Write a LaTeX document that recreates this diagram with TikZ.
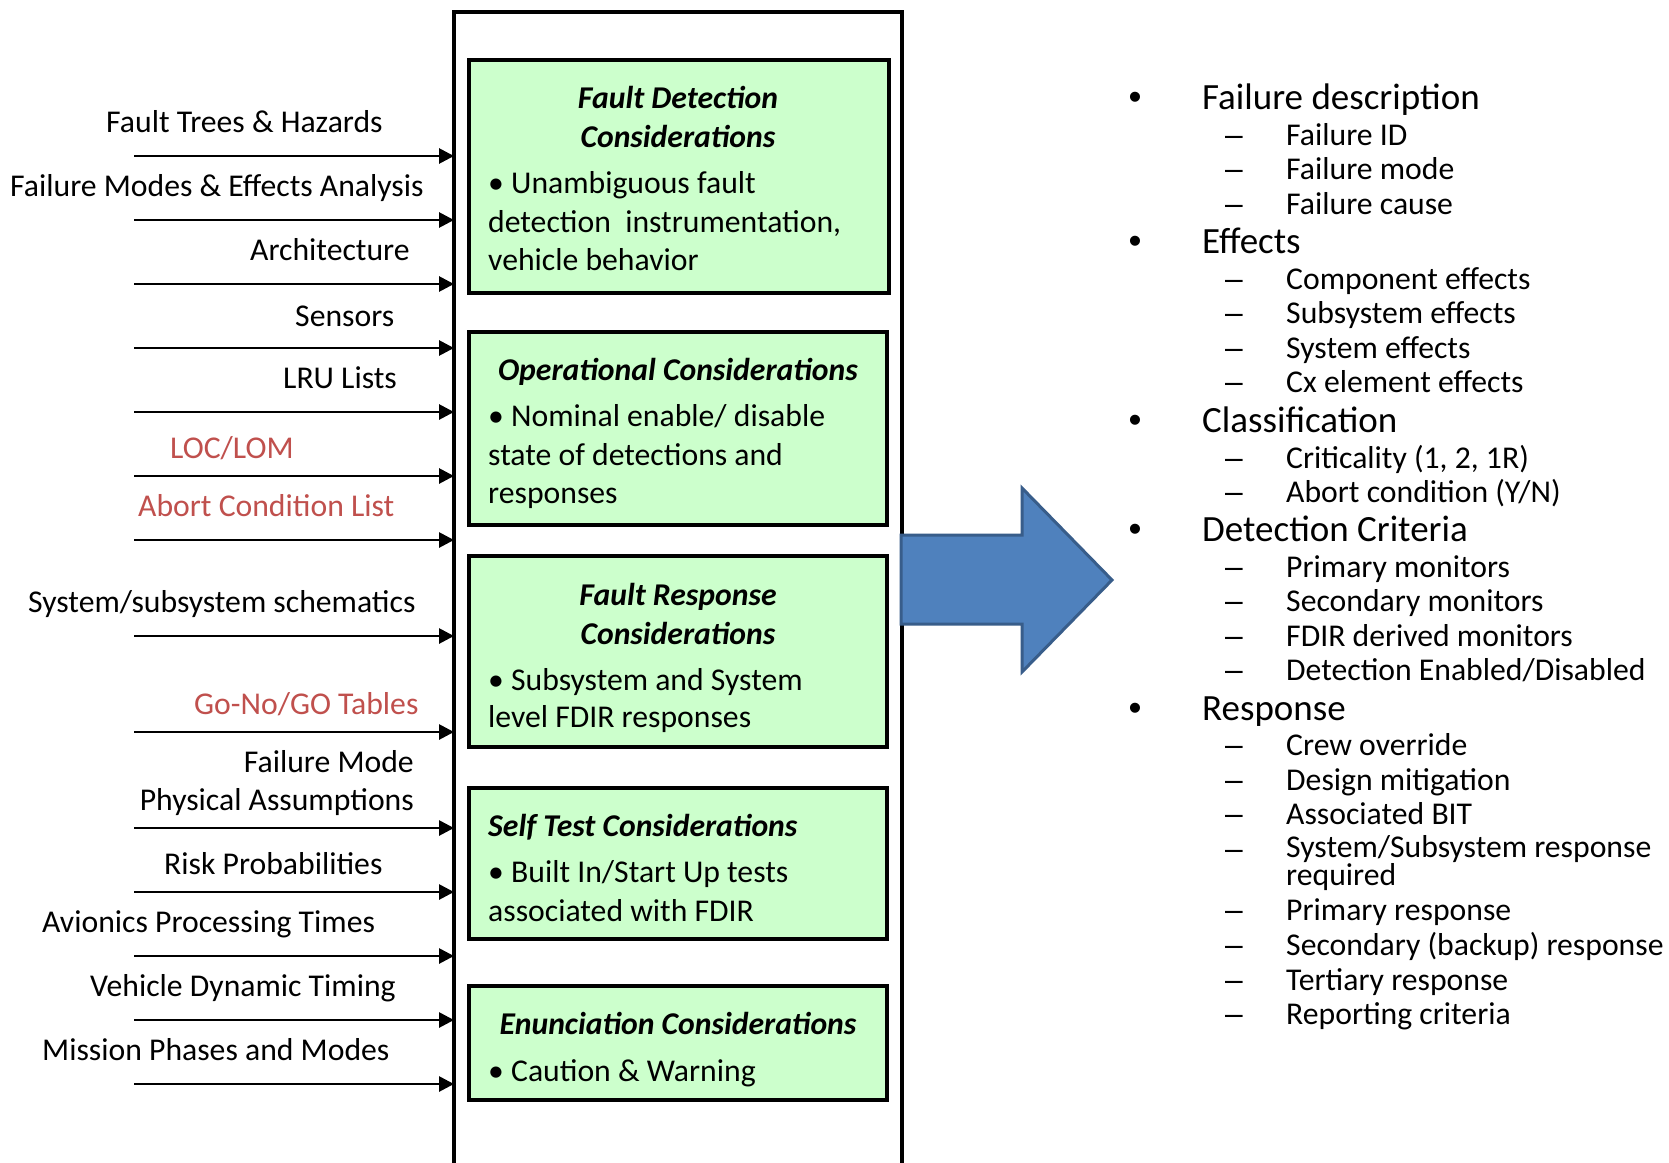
\documentclass[tikz,border=0pt]{standalone}
\usepackage{fontspec}
\setmainfont{Carlito}
\newfontfamily\markfont{Liberation Sans}
\usetikzlibrary{arrows.meta}

\definecolor{boxgreen}{HTML}{CCFFCC}
\definecolor{labelred}{HTML}{C0504D}
\definecolor{arrowblue}{HTML}{4F81BD}
\definecolor{arrowedge}{HTML}{385D8A}

\newcommand{\lblsize}{\fontsize{31.7}{38}\selectfont}
\newcommand{\mainsize}{\fontsize{37}{44}\selectfont}

\tikzset{
  outerframe/.style={draw=black, line width=3.5pt, outer sep=0pt, inner sep=0pt, anchor=north west},
  considbox/.style={draw=black, fill=boxgreen, line width=3.5pt, outer sep=0pt, inner sep=0pt, anchor=north west},
  inlabel/.style={anchor=base west, inner sep=0pt, font=\lblsize},
  inlabelr/.style={anchor=base east, inner sep=0pt, font=\lblsize},
  warnlabel/.style={inlabel, text=labelred},
  feedarrow/.style={line width=2.8pt, -{Triangle[length=15pt,width=15pt]}},
  headline/.style={anchor=base, inner sep=0pt, font=\lblsize\bfseries\itshape},
  headlinel/.style={anchor=base west, inner sep=0pt, font=\lblsize\bfseries\itshape},
  bodyline/.style={anchor=base west, inner sep=0pt, font=\lblsize},
  mainitem/.style={anchor=base west, inner sep=0pt, font=\mainsize},
  subitem/.style={anchor=base west, inner sep=0pt, font=\lblsize},
  bulletmark/.style={anchor=base, inner sep=0pt, font=\markfont\mainsize},
  dashmark/.style={anchor=base, inner sep=0pt, font=\markfont\lblsize},
  bigarrow/.style={fill=arrowblue, draw=arrowedge, line width=3pt, line join=miter},
}

\begin{document}
\begin{tikzpicture}[x=1pt,y=-1pt]
\useasboundingbox (0,0) rectangle (1669,1162);
\clip (0,0) rectangle (1669,1162);
\fill[white] (0,0) rectangle (1669,1162);

% ---- container that collects all inputs (open at the bottom) ----
\node[outerframe, minimum width=448pt, minimum height=1170pt] (frame) at (454,12) {};

% ---- consideration boxes ----
\node[considbox, minimum width=420pt, minimum height=233pt] (fd) at (469,60) {};
\node[considbox, minimum width=418pt, minimum height=193pt] (op) at (469,332) {};
\node[considbox, minimum width=418pt, minimum height=191pt] (fr) at (469,556) {};
\node[considbox, minimum width=418pt, minimum height=151pt] (st) at (469,788) {};
\node[considbox, minimum width=418pt, minimum height=114pt] (en) at (469,986) {};

% Fault detection
\node[headline] (fdh1) at (678,108) {Fault Detection};
\node[headline] (fdh2) at (678,147.5) {Considerations};
\node[bodyline] (fdb1) at (488,193.5) {• Unambiguous fault};
\node[bodyline] (fdb2) at (488,232.5) {detection\ \ instrumentation,};
\node[bodyline] (fdb3) at (488,270.5) {vehicle behavior};

% Operational
\node[headline] (oph1) at (678,380.5) {Operational Considerations};
\node[bodyline] (opb1) at (488,426.5) {• Nominal enable/ disable};
\node[bodyline] (opb2) at (488,465) {state of detections and};
\node[bodyline] (opb3) at (488,503.5) {responses};

% Fault response
\node[headline] (frh1) at (678,605) {Fault Response};
\node[headline] (frh2) at (678,644.3) {Considerations};
\node[bodyline] (frb1) at (488,690) {• Subsystem and System};
\node[bodyline] (frb2) at (488,727.5) {level FDIR responses};

% Self test
\node[headlinel] (sth1) at (488,836.3) {Self Test Considerations};
\node[bodyline] (stb1) at (488,882) {• Built In/Start Up tests};
\node[bodyline] (stb2) at (488,921) {associated with FDIR};

% Enunciation
\node[headline] (enh1) at (678,1034.6) {Enunciation Considerations};
\node[bodyline] (enb1) at (488,1081) {• Caution \& Warning};

% ---- input labels and feed arrows ----
\node[inlabel]   (l1)  at (106,132.5) {Fault Trees \& Hazards};
\node[inlabel]   (l2)  at (10,196.5)  {Failure Modes \& Effects Analysis};
\node[inlabel]   (l3)  at (250,260.3) {Architecture};
\node[inlabel]   (l4)  at (295,326)   {Sensors};
\node[inlabel]   (l5)  at (283,388)   {LRU Lists};
\node[warnlabel] (l6)  at (170,458.5) {LOC/LOM};
\node[warnlabel] (l7)  at (138,516.5) {Abort Condition List};
\node[inlabel]   (l8)  at (28,612.3)  {System/subsystem schematics};
\node[warnlabel] (l9)  at (194,714)   {Go-No/GO Tables};
\node[inlabelr]  (l10a) at (414,772.3) {Failure Mode};
\node[inlabelr]  (l10b) at (414,810)  {Physical Assumptions};
\node[inlabel]   (l11) at (164,874.3) {Risk Probabilities};
\node[inlabel]   (l12) at (42,932)    {Avionics Processing Times};
\node[inlabel]   (l13) at (90,996.8)  {Vehicle Dynamic Timing};
\node[inlabel]   (l14) at (42,1060.5) {Mission Phases and Modes};

\foreach \n/\yy in {1/156,2/220,3/284,4/348,5/412,6/476,7/540,8/636,
                    9/732,10/828,11/892,12/956,13/1020,14/1084}{
  \coordinate (s\n) at (134,\yy);
  \draw[feedarrow] (s\n) -- (s\n -| frame.west);
}

% ---- output arrow ----
\draw[bigarrow] (901,535) -- (1022,535) -- (1022,488) -- (1112,580)
  -- (1022,672) -- (1022,624) -- (901,624) -- cycle;

% ---- output contents ----
\foreach \nm/\yy/\txt in {m1/109/{Failure description}, m2/253/{Effects},
    m3/432/{Classification}, m4/541/{Detection Criteria}, m5/720/{Response}}{
  \node[bulletmark] (\nm b) at (1135,\yy) {•};
  \node[mainitem] (\nm) at (1202,\yy) {\txt};
}

\foreach \nm/\yy/\txt in {
    s1/145/{Failure ID}, s2/179/{Failure mode}, s3/214/{Failure cause},
    s4/289/{Component effects}, s5/323/{Subsystem effects}, s6/358/{System effects},
    s7/392/{Cx element effects},
    s8/468/{Criticality (1, 2, 1R)}, s9/502/{Abort condition (Y/N)},
    s10/577/{Primary monitors}, s11/611/{Secondary monitors},
    s12/646/{FDIR derived monitors}, s13/680.5/{Detection Enabled/Disabled},
    s14/755/{Crew override}, s15/790/{Design mitigation}, s16/824/{Associated BIT},
    s18/920/{Primary response}, s19/955/{Secondary (backup) response},
    s20/990/{Tertiary response}, s21/1024/{Reporting criteria}}{
  \node[dashmark] (\nm d) at (1234,\yy) {–};
  \node[subitem] (\nm t) at (1286,\yy) {\txt};
}
% wrapped item: two tightly set lines in one node (base sits on the last line)
\node[dashmark] (s17d) at (1234,859) {–};
\node[subitem, align=left, font=\fontsize{31.7}{26.5}\selectfont]
  (s17t) at (1286,885.5) {System/Subsystem response\\required};

\end{tikzpicture}
\end{document}
